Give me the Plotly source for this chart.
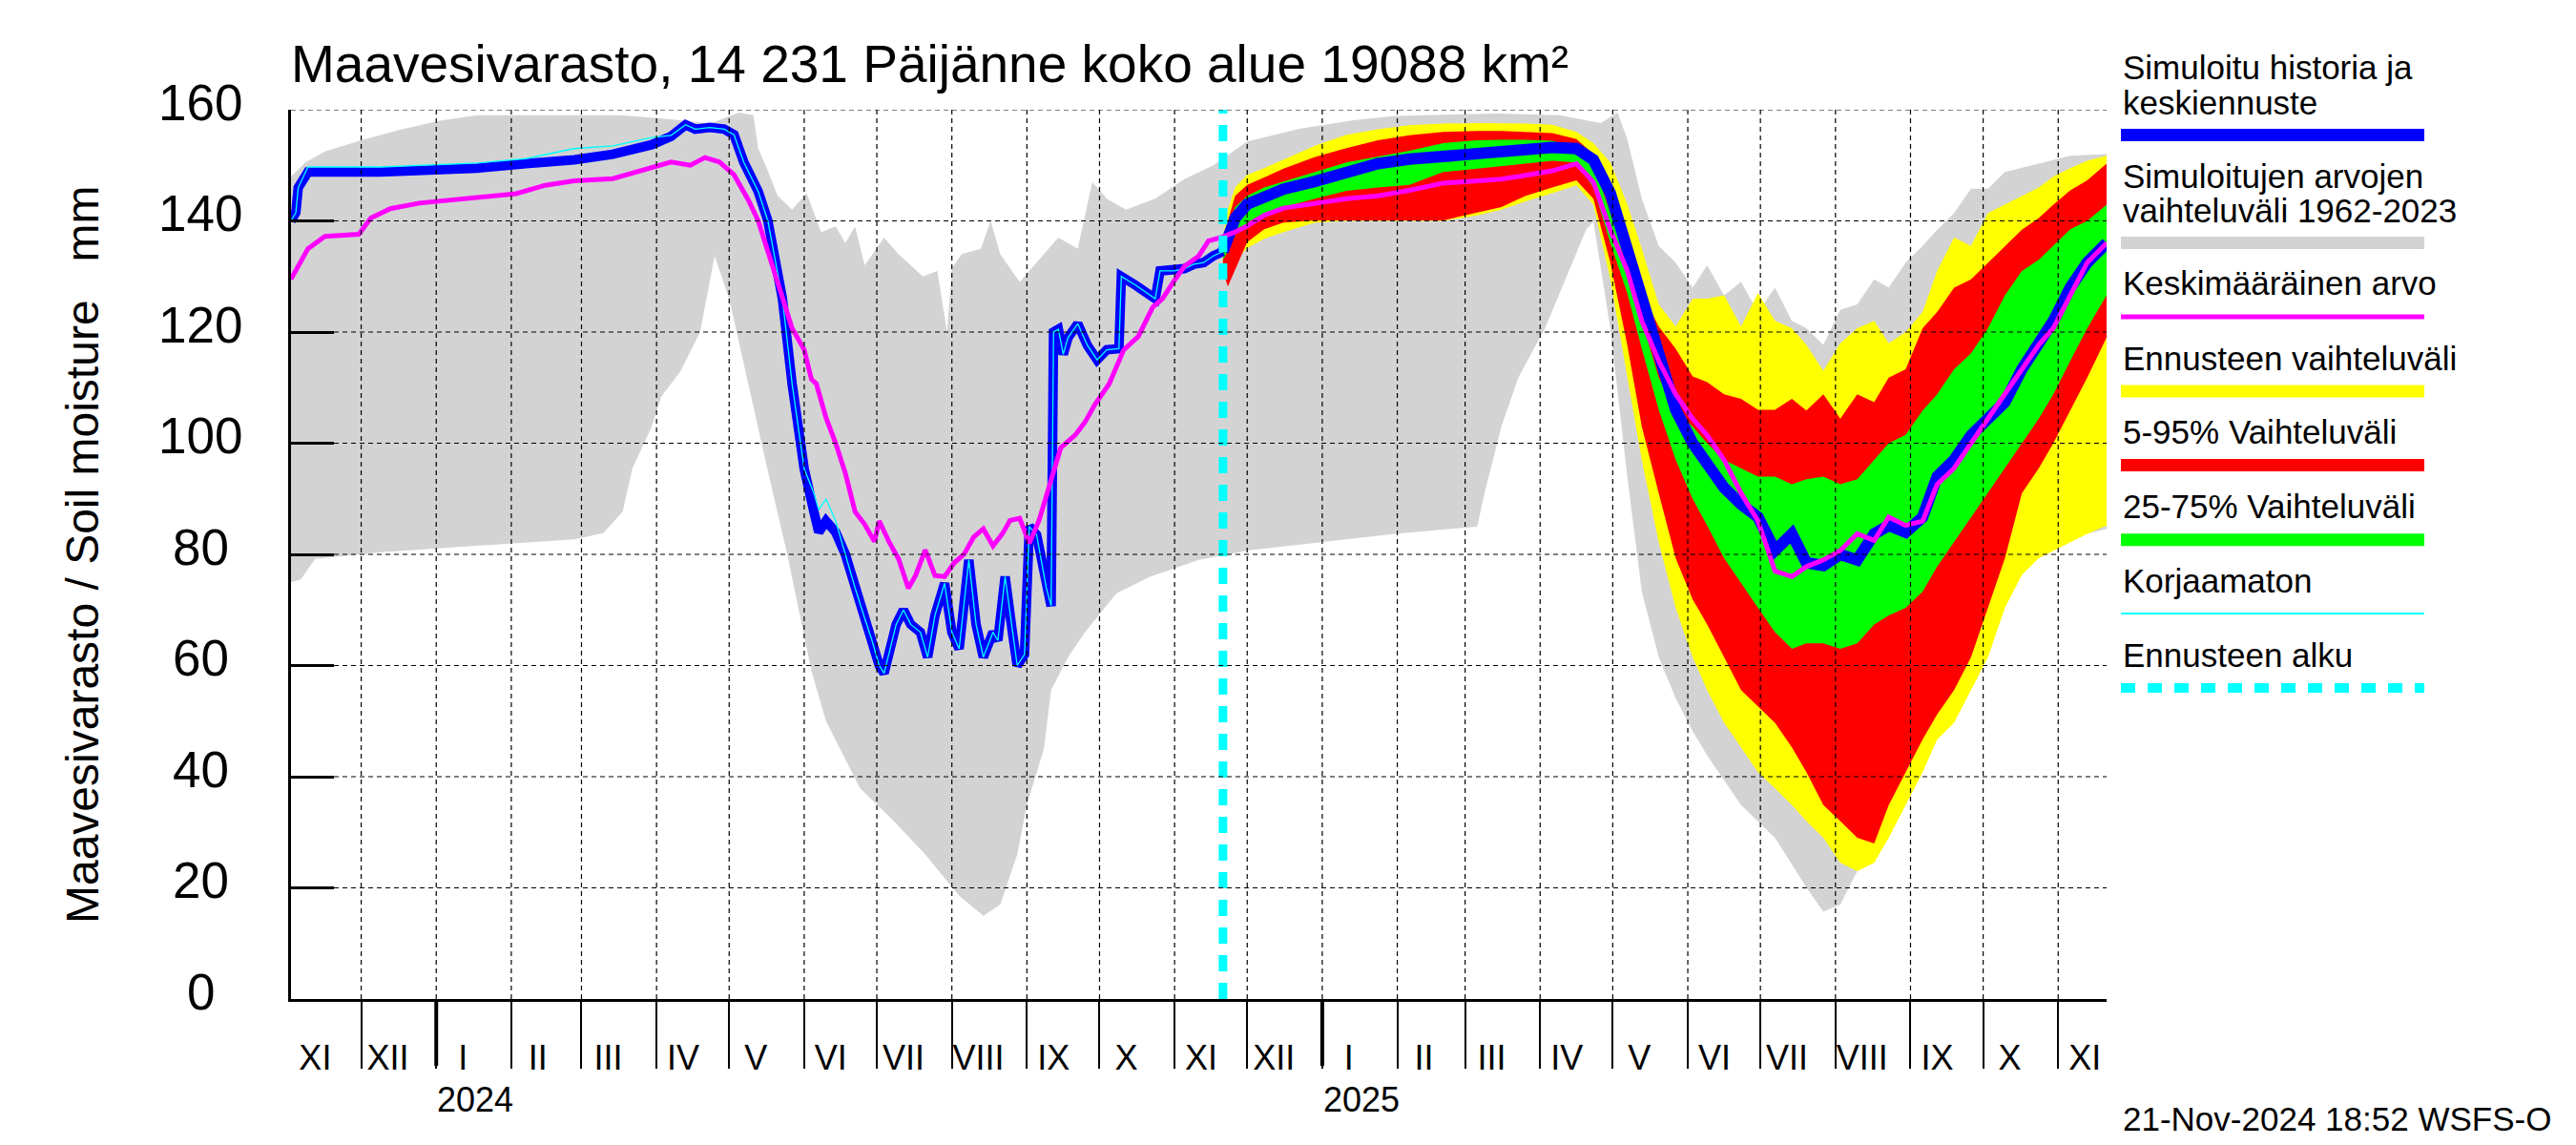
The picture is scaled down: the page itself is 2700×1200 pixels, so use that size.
import plotly.graph_objects as go
import pandas as pd

# ---------------- data ----------------
x_start = "2023-11-02"
x_end = "2025-11-21"
forecast_start = "2024-11-21"

# simulated history (blue) and uncorrected (cyan)
hist_dates = ["2023-11-02","2023-11-04","2023-11-05","2023-11-09","2023-12-09","2024-01-18","2024-02-07",
              "2024-02-27","2024-03-14","2024-03-30","2024-04-07","2024-04-13","2024-04-17","2024-04-23",
              "2024-04-29","2024-05-03","2024-05-07","2024-05-13","2024-05-17","2024-05-23","2024-05-27",
              "2024-06-01","2024-06-05","2024-06-07","2024-06-10","2024-06-14","2024-06-18","2024-06-22",
              "2024-06-26","2024-06-29","2024-07-02","2024-07-04","2024-07-09","2024-07-12","2024-07-15",
              "2024-07-19","2024-07-22","2024-07-25","2024-07-29","2024-08-01","2024-08-04","2024-08-08",
              "2024-08-11","2024-08-14","2024-08-18","2024-08-20","2024-08-23","2024-08-26","2024-08-28",
              "2024-08-31","2024-09-02","2024-09-05","2024-09-09","2024-09-11","2024-09-12","2024-09-14",
              "2024-09-16","2024-09-18","2024-09-22","2024-09-26","2024-09-30","2024-10-04","2024-10-09",
              "2024-10-10","2024-10-16","2024-10-24","2024-10-26","2024-11-01","2024-11-05","2024-11-09",
              "2024-11-13","2024-11-17","2024-11-21"]
hist_blue = [140,141.5,146,148.8,148.8,149.5,150.3,151,152,153.7,155.2,157.3,156.5,156.8,156.5,155.5,150.6,
             145.3,140,126,110.7,95.4,87.7,84,86,84,80,74,68.5,64.5,60,58.6,67.4,70,67.4,66,61.5,69,74.8,66,
             63,79,67.4,61.5,66,64.5,76,66,60,62,85,83.5,74,70.7,120,120.5,116,119,121.5,117.6,115,116.8,117,
             130,128.4,126,131,131,131.4,132.2,132.5,133.7,134.5]
hist_uncorr = [140,141.5,146,149.7,149.7,150.4,151.2,153,153.5,155,155.4,157.3,156.5,156.8,156.5,155.5,150.6,
               145.3,140,126,110.7,95.4,91,88,90,86,80,74,68.5,64.5,60,58.6,67.4,70,67.4,66,61.5,69,74.8,66,
               63,79,67.4,61.5,66,64.5,76,66,60,62,85,83.5,74,70.7,120,120.5,116,119,121.5,117.6,115,116.8,117,
               130,128.4,126,131,131,131.4,132.2,132.5,133.7,134.5]

# range of simulated values 1962-2023 (grey)
clim_up_dates = ["2023-11-02","2023-11-08","2023-11-16","2023-12-01","2023-12-17","2024-01-02","2024-01-18",
                 "2024-03-17","2024-04-07","2024-04-23","2024-05-05","2024-05-11","2024-05-13","2024-05-17",
                 "2024-05-21","2024-05-27","2024-06-02","2024-06-08","2024-06-14","2024-06-18","2024-06-22",
                 "2024-06-26","2024-07-04","2024-07-10","2024-07-20","2024-07-26","2024-07-30","2024-08-01",
                 "2024-08-05","2024-08-13","2024-08-17","2024-08-21","2024-08-29","2024-09-06","2024-09-14",
                 "2024-09-22","2024-09-28","2024-10-04","2024-10-12","2024-10-24","2024-11-05","2024-11-17",
                 "2024-11-28","2024-12-01","2024-12-23","2025-01-14","2025-01-31","2025-03-14","2025-04-09",
                 "2025-04-26","2025-05-03","2025-05-07","2025-05-13","2025-05-20","2025-05-27","2025-06-03",
                 "2025-06-09","2025-06-16","2025-06-23","2025-06-30","2025-07-07","2025-07-14","2025-07-20",
                 "2025-07-27","2025-08-03","2025-08-10","2025-08-17","2025-08-23","2025-08-30","2025-09-06",
                 "2025-09-12","2025-09-19","2025-09-26","2025-10-03","2025-10-10","2025-10-24","2025-11-06",
                 "2025-11-21"]
clim_upper = [148,150.5,152.5,154.5,156.4,158,159,159,158.3,157.5,159.5,159,153,149,144.5,142,145,138,139,136,
              139,132,137,134,130,131,120,131.5,134,135,140,134,129,133,137,135,147,144,142,144,147.5,150,153.5,
              154.3,156.6,158.1,158.9,159.3,159,157.6,159.5,154.7,144,135.5,132.5,128,132,126.6,129,123.6,128,
              122,120.7,117.7,124,125,129.5,128,132.5,135.5,138.4,141.4,145.8,145.8,148.8,150.3,151.7,152]
clim_lo_dates = ["2023-11-02","2023-11-06","2023-11-12","2023-12-09","2024-01-18","2024-02-27","2024-03-10",
                 "2024-03-18","2024-03-22","2024-03-30","2024-04-03","2024-04-11","2024-04-19","2024-04-25",
                 "2024-05-01","2024-05-09","2024-05-17","2024-05-25","2024-06-04","2024-06-10","2024-06-24",
                 "2024-07-08","2024-07-21","2024-08-04","2024-08-14","2024-08-21","2024-08-28","2024-09-01",
                 "2024-09-08","2024-09-11","2024-09-18","2024-09-25","2024-10-08","2024-10-22","2024-11-11",
                 "2024-12-01","2024-12-28","2025-01-31","2025-03-06","2025-03-09","2025-03-16","2025-03-23",
                 "2025-04-03","2025-04-13","2025-04-20","2025-04-23","2025-04-30","2025-05-07","2025-05-13",
                 "2025-05-20","2025-05-27","2025-06-03","2025-06-09","2025-06-23","2025-07-07","2025-07-20",
                 "2025-07-27","2025-08-03","2025-08-10","2025-08-23","2025-09-06","2025-09-16","2025-09-26",
                 "2025-10-10","2025-10-30","2025-11-21"]
clim_lower = [75,75.5,79.2,80.4,81.5,82.7,83.8,87.7,95.4,103,108.4,113,120,133.7,126,110.7,95,80,59,50,38,32,26,
              18.6,15,17,26,35,45,55.6,61.5,66,73,76,79,80.7,82,83.7,85,91,103,111.8,120.7,131,138.4,139.9,
              120.7,94,73.3,61.5,54.1,48.2,43.8,34.9,29,20.1,15.7,17,23,33.4,45.3,55.6,67.4,77.8,82.2,84.6]

# mean value (magenta)
mean_dates = ["2023-11-02","2023-11-05","2023-11-09","2023-11-16","2023-11-30","2023-12-05","2023-12-13",
              "2023-12-25","2024-01-18","2024-02-03","2024-02-15","2024-02-27","2024-03-14","2024-03-30",
              "2024-04-07","2024-04-15","2024-04-21","2024-04-27","2024-05-03","2024-05-09","2024-05-13",
              "2024-05-17","2024-05-21","2024-05-23","2024-05-27","2024-06-01","2024-06-04","2024-06-06",
              "2024-06-10","2024-06-14","2024-06-18","2024-06-22","2024-06-26","2024-06-30","2024-07-02",
              "2024-07-06","2024-07-10","2024-07-14","2024-07-17","2024-07-21","2024-07-25","2024-07-29",
              "2024-08-02","2024-08-06","2024-08-10","2024-08-14","2024-08-18","2024-08-22","2024-08-25",
              "2024-08-29","2024-09-02","2024-09-06","2024-09-11","2024-09-15","2024-09-21","2024-09-25",
              "2024-09-29","2024-10-05","2024-10-11","2024-10-17","2024-10-23","2024-10-27","2024-10-31",
              "2024-11-05","2024-11-11","2024-11-15","2024-11-20",
              "2024-11-23","2024-11-26","2024-12-01","2024-12-08","2024-12-16","2024-12-29","2025-01-11",
              "2025-01-24","2025-02-06","2025-02-20","2025-03-06","2025-03-16","2025-03-26","2025-04-06",
              "2025-04-16","2025-04-23","2025-04-30","2025-05-07","2025-05-13","2025-05-20","2025-05-27",
              "2025-06-03","2025-06-09","2025-06-16","2025-06-23","2025-06-30","2025-07-07","2025-07-14",
              "2025-07-20","2025-07-27","2025-08-03","2025-08-10","2025-08-17","2025-08-23","2025-08-30",
              "2025-09-06","2025-09-12","2025-09-19","2025-09-26","2025-10-03","2025-10-10","2025-10-17",
              "2025-10-24","2025-10-30","2025-11-06","2025-11-13","2025-11-21"]
mean_vals = [129.5,132,135,137.2,137.6,140.5,142.2,143.2,144.3,144.9,146.4,147.2,147.6,149.5,150.6,150,151.4,
             150.6,148.3,143.7,140,134.5,129,126,120.7,116.8,111.5,110.7,104.6,100,94.6,87.7,85.4,82.3,86,82.3,
             79.2,73.9,76.2,80.8,76.2,76,78.5,80,83.1,84.6,81.5,83.8,86.1,86.5,82,86.1,93,99.2,101.5,103.8,
             106.9,110.7,116.8,119.2,124.5,126,128.7,131.8,133.7,136.4,137,
             137.5,138,139.1,141,142.3,143.1,144,144.5,145.5,146.8,147.2,147.5,148.2,149,150.3,147,138.4,131,
             122,114.8,108.8,104.4,101.4,97,91,86,77,76,77.8,79,80.7,83.7,82.5,86.7,85.2,86,92.6,95.5,100,
             104.4,108.8,113,117.7,120.7,126.6,132.5,136]

# forecast (common date grid)
fc_dates = ["2024-11-21","2024-11-23","2024-11-26","2024-12-01","2024-12-08","2024-12-16","2024-12-29",
            "2025-01-11","2025-01-24","2025-02-06","2025-02-20","2025-03-06","2025-03-16","2025-03-26",
            "2025-04-06","2025-04-16","2025-04-23","2025-04-30","2025-05-07","2025-05-13","2025-05-20",
            "2025-05-27","2025-06-03","2025-06-09","2025-06-16","2025-06-23","2025-06-30","2025-07-07",
            "2025-07-14","2025-07-20","2025-07-27","2025-08-03","2025-08-10","2025-08-17","2025-08-23",
            "2025-08-30","2025-09-06","2025-09-12","2025-09-19","2025-09-26","2025-10-03","2025-10-10",
            "2025-10-17","2025-10-24","2025-10-30","2025-11-06","2025-11-13","2025-11-21"]
fc_max = [137,142,146,148.3,149.5,151,153.5,155.5,156.5,157.2,157.5,157.6,157.6,157.5,157.3,156,154,150.5,143,
          135,125,121,126,126,126.6,121,127,122,120.7,117.7,113,118,120.7,122,118,120,123.6,131,137,135.5,
          141.4,142.9,144.5,146,148,149.5,150.8,151.7]
fc_p95 = [136,140,144.5,146.5,147.8,149.4,151.5,153.1,154.5,155.4,156,156.2,156.2,156,155.8,154.7,152,145,133,
          127,121,117,112,111,108.8,108,106,106,108,105.9,108.8,104.4,108.8,107.4,111.8,113.3,120.7,123.6,128,
          129.5,132.5,135.5,138.4,140.5,142.9,145.5,147.3,150.3]
fc_p75 = [135,138.5,142.5,144.5,146,147.1,148.8,150.5,151.5,152.6,154,154.5,154.6,154.6,154.4,153.2,150.3,
          141.4,132.5,122,111.8,105.9,103,100,97,95.5,94,94,92.6,93.5,94,92.6,93.5,97,100,101.5,105.9,108.8,
          113.3,116.2,120.7,126.6,131,133,135.5,138.5,140,142.9]
fc_median = [134.5,137.5,140.5,143,144.5,145.7,147.1,148.5,150.3,151.1,151.7,152.3,152.6,153,153.2,153,151,145,
             135,127,117,106,100,96,92,89,86.7,80.7,83.7,78.5,78,80,79,83.7,85.2,84,86.7,94,97,101.4,104.4,
             107.4,113.3,117.7,122,128,132.5,136]
fc_p25 = [133,134.5,137.5,139.7,141.4,142.5,144,145.4,146,146.5,148.8,149.4,149.8,150.3,150.8,150.5,146,136,
          127,117,106,97,90,85.2,79.3,74.8,70.4,66,63,64,64,63,64,67.4,69,70.4,73.3,77.8,82.2,86.7,91,95.5,
          100,104.4,108.8,114.8,120.7,126.6]
fc_p05 = [131,128.2,131,136.2,138.5,139.7,140.1,140.1,140.1,140.1,140.1,141.5,142.5,144.5,146,147.3,144,132.5,
          117.7,103,91,79.3,71.9,67.4,61.5,55.6,52.6,49.7,45.3,40.8,34.9,32,29,28,34.9,40.8,46.7,51.2,55.6,
          61.5,70.4,79.3,91,95.5,100,105.9,111.8,119]
fc_min = [130,129,133,135.1,136.8,138,139.7,140,140,140,140,141,142,143.5,145,146.4,142.9,129.5,111.8,97,82.2,
          70.4,61.5,55.6,49.7,45.3,40.8,37.9,34.9,32,29,24.5,23,24.5,29,34.9,40.8,46.7,49.7,55.6,61.5,70.4,
          76.3,79.3,80.7,82.2,83.7,85.2]

y_ticks = [0, 20, 40, 60, 80, 100, 120, 140, 160]
roman = ["I","II","III","IV","V","VI","VII","VIII","IX","X","XI","XII"]
year_labels = ["2024", "2025"]

title_text = "Maavesivarasto, 14 231 Päijänne koko alue 19088 km²"
ytitle_text = "Maavesivarasto / Soil moisture\u00a0\u00a0\u00a0mm"
stamp_text = "21-Nov-2024 18:52 WSFS-O"
legend_items = [
    (["Simuloitu historia ja", "keskiennuste"], "#0000ff", 13, None),
    (["Simuloitujen arvojen", "vaihteluväli 1962-2023"], "#d3d3d3", 13, None),
    (["Keskimääräinen arvo"], "#ff00ff", 5, None),
    (["Ennusteen vaihteluväli"], "#ffff00", 13, None),
    (["5-95% Vaihteluväli"], "#ff0000", 13, None),
    (["25-75% Vaihteluväli"], "#00ff00", 13, None),
    (["Korjaamaton"], "#00ffff", 2, None),
    (["Ennusteen alku"], "#00ffff", 10, "15px,13px"),
]

# ---------------- geometry ----------------
W, H = 2700, 1200
L, R, T, B = 305, 2208, 115, 1047
PW, PH = R - L, B - T
FONT = "Liberation Sans, Arial, sans-serif"


def px(xp):
    return (xp - L) / PW


def py(yp):
    return (B - yp) / PH


fig = go.Figure()


def band(xu, yu, xl, yl, color):
    fig.add_trace(go.Scatter(x=list(xu) + list(xl)[::-1], y=list(yu) + list(yl)[::-1], fill="toself",
                             fillcolor=color, mode="lines", line=dict(width=0, color=color),
                             hoverinfo="skip", showlegend=False))


band(clim_up_dates, clim_upper, clim_lo_dates, clim_lower, "#d3d3d3")
band(fc_dates, fc_max, fc_dates, fc_min, "#ffff00")
band(fc_dates, fc_p95, fc_dates, fc_p05, "#ff0000")
band(fc_dates, fc_p75, fc_dates, fc_p25, "#00ff00")

fig.add_trace(go.Scatter(x=hist_dates, y=hist_blue, mode="lines", line=dict(color="#0000ff", width=10),
                         hoverinfo="skip", showlegend=False))
fig.add_trace(go.Scatter(x=fc_dates, y=fc_median, mode="lines", line=dict(color="#0000ff", width=12),
                         hoverinfo="skip", showlegend=False))
fig.add_trace(go.Scatter(x=hist_dates, y=hist_uncorr, mode="lines", line=dict(color="#00ffff", width=1.3),
                         hoverinfo="skip", showlegend=False))
fig.add_trace(go.Scatter(x=mean_dates, y=mean_vals, mode="lines", line=dict(color="#ff00ff", width=5),
                         hoverinfo="skip", showlegend=False))

month_starts = pd.date_range("2023-12-01", "2025-11-01", freq="MS")
label_dates = pd.date_range("2023-11-01", "2025-11-01", freq="MS") + pd.Timedelta(days=11)
label_text = [roman[d.month - 1] for d in label_dates]

# dummy trace for the label axis
fig.add_trace(go.Scatter(x=[label_dates[0]], y=[None], xaxis="x2", mode="markers",
                         hoverinfo="skip", showlegend=False))

shapes = []
# forecast start line
shapes.append(dict(type="line", xref="x", yref="paper", x0=forecast_start, x1=forecast_start, y0=0, y1=1,
                   line=dict(color="#00ffff", width=9, dash="17px,12px"), layer="above"))
# grid lines on top of data
for d in month_starts:
    shapes.append(dict(type="line", xref="x", yref="paper", x0=d, x1=d, y0=0, y1=1,
                       line=dict(color="black", width=1.2, dash="5px,4px"), layer="above"))
for v in y_ticks[1:]:
    shapes.append(dict(type="line", xref="paper", yref="y", x0=0, x1=1, y0=v, y1=v,
                       line=dict(color="black", width=1.2, dash="5px,4px"), layer="above"))
# thicker year ticks
for d in month_starts:
    if d.month == 1:
        shapes.append(dict(type="line", xref="x", yref="paper", x0=d, x1=d, y0=0, y1=-70 / PH,
                           line=dict(color="black", width=4), layer="above"))

annotations = []
annotations.append(dict(text=title_text, xref="paper", yref="paper", x=px(303), y=py(67), xanchor="left",
                        yanchor="middle", showarrow=False, font=dict(size=55, family=FONT, color="black")))
annotations.append(dict(text=ytitle_text, xref="paper", yref="paper", x=px(86), y=0.5, xanchor="center",
                        yanchor="middle", textangle=-90, showarrow=False,
                        font=dict(size=48, family=FONT, color="black")))
# y tick labels, centred (as in the reference)
for v in y_ticks:
    annotations.append(dict(text=str(v), xref="paper", yref="y", x=px(210), y=v, xanchor="center",
                            yanchor="middle", yshift=8, showarrow=False,
                            font=dict(size=53, family=FONT, color="black")))
for yl in year_labels:
    annotations.append(dict(text=yl, xref="x", yref="paper", x=f"{yl}-01-17", y=py(1152), xanchor="center",
                            yanchor="middle", showarrow=False, font=dict(size=36, family=FONT, color="black")))
annotations.append(dict(text=stamp_text, xref="paper", yref="paper", x=px(2223), y=py(1172), xanchor="left",
                        yanchor="middle", showarrow=False, font=dict(size=35, family=FONT, color="black")))

# legend (drawn manually)
leg_text_y = [[71, 107], [184, 220], [297], [375], [452], [530], [608], [686]]
leg_line_y = [141.5, 254.5, 332, 410, 487.5, 565.7, 643, 721]
for (lines, color, width, dash), ty, ly in zip(legend_items, leg_text_y, leg_line_y):
    for t, yy in zip(lines, ty):
        annotations.append(dict(text=t, xref="paper", yref="paper", x=px(2223), y=py(yy), xanchor="left",
                                yanchor="middle", showarrow=False,
                                font=dict(size=35, family=FONT, color="black")))
    ln = dict(color=color, width=width)
    if dash:
        ln["dash"] = dash
    shapes.append(dict(type="line", xref="paper", yref="paper", x0=px(2223), x1=px(2541), y0=py(ly), y1=py(ly),
                       line=ln, layer="above"))

fig.update_layout(
    width=W, height=H,
    margin=dict(l=L, r=W - R, t=T, b=H - B, pad=0),
    paper_bgcolor="white", plot_bgcolor="white",
    showlegend=False,
    font=dict(family=FONT, color="black"),
    xaxis=dict(type="date", range=[x_start, x_end], tickvals=list(month_starts), showticklabels=False,
               ticks="outside", ticklen=70, tickwidth=1.5, tickcolor="black", showgrid=False, zeroline=False,
               showline=True, linewidth=3, linecolor="black", layer="above traces"),
    xaxis2=dict(type="date", overlaying="x", matches="x", side="bottom", anchor="y", tickvals=list(label_dates),
                ticktext=label_text, ticks="", showgrid=False, zeroline=False, showline=False,
                tickfont=dict(size=36, family=FONT, color="black"), ticklabelstandoff=37),
    yaxis=dict(range=[0, 160], tickvals=y_ticks, ticks="inside", ticklen=45, tickwidth=3, tickcolor="black",
               showgrid=False, zeroline=False, showline=True, linewidth=3, linecolor="black",
               showticklabels=False, layer="above traces"),
    shapes=shapes,
    annotations=annotations,
)

fig.write_html("out.html", config={"displayModeBar": False},
               post_script="document.body.style.margin='0px';")
